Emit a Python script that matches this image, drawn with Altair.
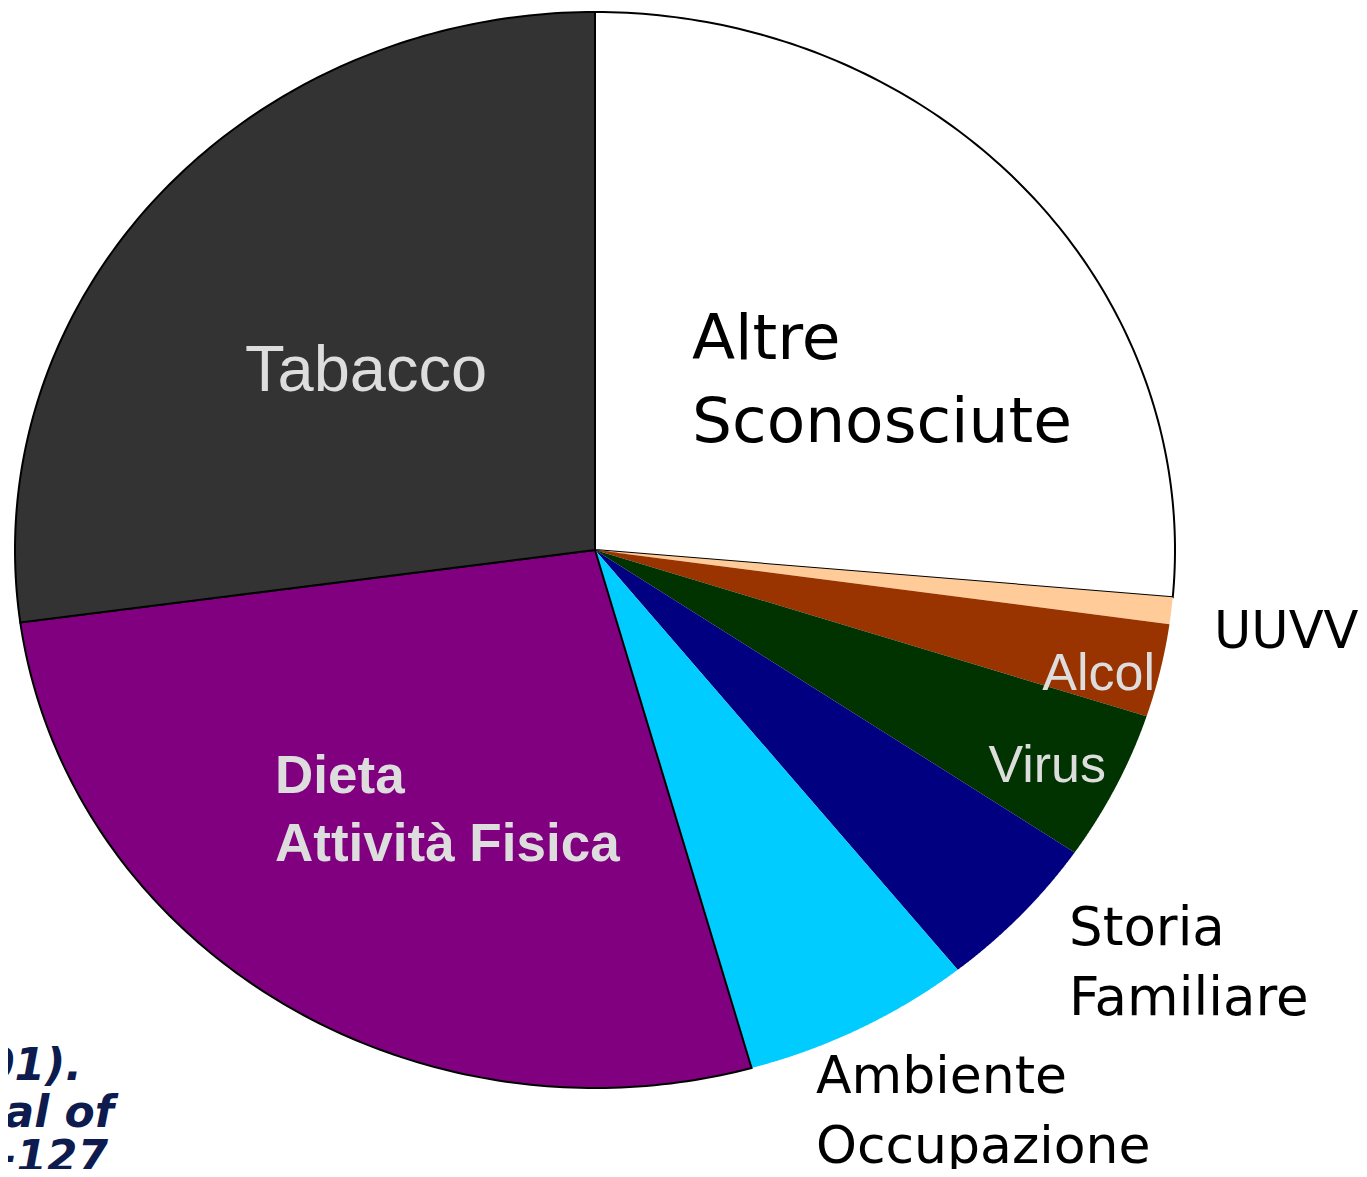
import altair as alt
import pandas as pd

# ---- data ----
categories = ["Altre Sconosciute", "UUVV", "Alcol", "Virus", "Storia Familiare",
              "Ambiente Occupazione", "Dieta Attività Fisica", "Tabacco"]
values = [26.4, 0.8, 2.8, 4.5, 4.75, 6.4, 27.2, 27.15]
order = [0, 1, 2, 3, 4, 5, 6, 7]
colors = ["#FFFFFF", "#FFCC99", "#993300", "#003300", "#000080",
          "#00CCFF", "#800080", "#333333"]
outlined = ["Altre Sconosciute", "Dieta Attività Fisica", "Tabacco"]

df = pd.DataFrame({"categoria": categories, "valore": values, "ordine": order})

N = 120  # arc resolution for each slice outline

xs = alt.Scale(domain=[-1, 1], range=[7, 1167])
ys = alt.Scale(domain=[-1, 1], range=[1080, 4])

pie = (
    alt.Chart(df)
    .transform_joinaggregate(total="sum(valore)")
    .transform_window(cum="sum(valore)", sort=[alt.SortField("ordine", order="ascending")])
    .transform_calculate(
        a0="2*PI*(datum.cum - datum.valore)/datum.total",
        a1="2*PI*datum.cum/datum.total",
        k=f"sequence(0, {N + 3})",
    )
    .transform_flatten(["k"])
    .transform_calculate(
        ang=f"datum.a0 + (datum.a1 - datum.a0) * (datum.k - 1) / {N}",
        isc=f"datum.k == 0 || datum.k == {N + 2}",
    )
    .transform_calculate(
        px="datum.isc ? 0 : sin(datum.ang)",
        py="datum.isc ? 0 : cos(datum.ang)",
    )
    .mark_line(interpolate="linear", strokeJoin="miter")
    .encode(
        x=alt.X("px:Q", scale=xs, axis=None),
        y=alt.Y("py:Q", scale=ys, axis=None),
        order=alt.Order("k:Q"),
        detail="categoria:N",
        fill=alt.Fill("categoria:N", scale=alt.Scale(domain=categories, range=colors), legend=None),
        stroke=alt.condition(alt.FieldOneOfPredicate(field="categoria", oneOf=outlined),
                             alt.value("#000000"), alt.value("transparent")),
        strokeWidth=alt.condition(alt.FieldOneOfPredicate(field="categoria", oneOf=outlined),
                                  alt.value(2), alt.value(0)),
    )
)

one = alt.Data(values=[{}])


def label(lines, x, y, size, font, color, weight="normal", style="normal",
          align="left", line_height=None):
    kw = dict(text=lines, font=font, fontSize=size, color=color, fontWeight=weight,
              fontStyle=style, align=align, baseline="alphabetic")
    if line_height:
        kw["lineHeight"] = line_height
    return alt.Chart(one).mark_text(**kw).encode(x=alt.value(x), y=alt.value(y))


verd = "DejaVu Sans"
arial = "Liberation Sans"
light = "#DDDDDD"
navy = "#0D1B4F"

labels = [
    label(["Altre", "Sconosciute"], 684, 351, 63, verd, "#000000", line_height=83),
    label(["Tabacco"], 237, 383, 65, arial, light),
    label(["Dieta", "Attività Fisica"], 267, 785, 53, arial, light, weight="bold", line_height=68),
    label(["UUVV"], 1206, 640, 51, verd, "#000000"),
    label(["Alcol"], 1147, 682, 52, arial, light, align="right"),
    label(["Virus"], 1098, 774, 52, arial, light, align="right"),
    label(["Storia", "Familiare"], 1061, 937, 53, verd, "#000000", line_height=70),
    label(["Ambiente", "Occupazione"], 808, 1085, 52, verd, "#000000", line_height=70),
    label(["01)."], 74, 1072, 44, verd, navy, weight="bold", style="italic", align="right"),
    label(["nal of"], 106, 1119, 44, verd, navy, weight="bold", style="italic", align="right"),
    label(["-127"], 100, 1164, 44, verd, navy, weight="bold", style="italic", align="right"),
]

chart = (
    alt.layer(pie, *labels)
    .properties(width=1351, height=1161, autosize=alt.AutoSizeParams(type="none"), padding=0)
    .configure_view(stroke=None)
)

chart.save("out.html", embed_options={"renderer": "svg", "actions": False})
